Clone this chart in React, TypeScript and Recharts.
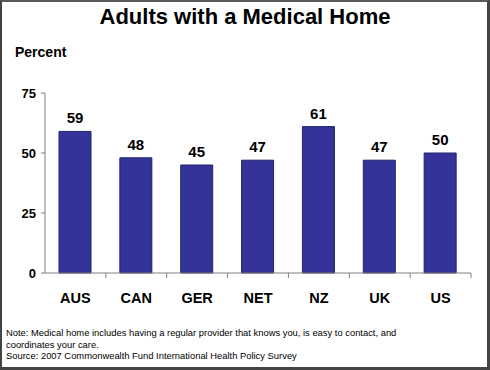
import { BarChart, Bar, XAxis, YAxis, LabelList } from "recharts";

const countries = ["AUS", "CAN", "GER", "NET", "NZ", "UK", "US"];
const percents = [59, 48, 45, 47, 61, 47, 50];
const yTicks = [0, 25, 50, 75];

const data = countries.map((name, i) => ({ name, value: percents[i] }));

const FONT = "Arial, 'Liberation Sans', Helvetica, sans-serif";
const W = 490;
const H = 370;
const LEFT = 45;
const RIGHT = 19;
const BAND = (W - LEFT - RIGHT) / countries.length;

function CountryTick(props: any) {
  const { x, y, payload } = props;
  return (
    <g>
      <line x1={x + BAND / 2} y1={y} x2={x + BAND / 2} y2={y + 5} stroke="#808080" />
      <text
        x={x}
        y={y + 26}
        textAnchor="middle"
        dominantBaseline="middle"
        fontFamily={FONT}
        fontWeight="bold"
        fontSize={14.5}
        fill="#000"
      >
        {payload.value}
      </text>
    </g>
  );
}

export default function App() {
  return (
    <div
      style={{
        position: "absolute",
        top: 0,
        left: 0,
        width: W,
        height: H,
        background: "#fff",
        fontFamily: FONT,
      }}
    >
      <div
        style={{
          position: "absolute",
          top: 4,
          left: 0,
          width: W,
          textAlign: "center",
          fontSize: 22,
          fontWeight: "bold",
          lineHeight: "26px",
        }}
      >
        Adults with a Medical Home
      </div>
      <div
        style={{
          position: "absolute",
          top: 43,
          left: 15,
          fontSize: 14,
          fontWeight: "bold",
          lineHeight: "18px",
        }}
      >
        Percent
      </div>

      <div style={{ position: "absolute", top: 0, left: 0 }}>
        <BarChart
          width={W}
          height={H}
          data={data}
          margin={{ top: 93, right: RIGHT, left: 0, bottom: 57 }}
          barCategoryGap="24%"
        >
          <XAxis
            dataKey="name"
            height={40}
            axisLine={{ stroke: "#808080" }}
            tickLine={false}
            tickSize={0}
            tickMargin={0}
            interval={0}
            tick={<CountryTick />}
          />
          <YAxis
            width={LEFT}
            domain={[0, 75]}
            ticks={yTicks}
            axisLine={{ stroke: "#808080" }}
            tickLine={{ stroke: "#808080" }}
            tickSize={4}
            tickMargin={5}
            tick={{ fill: "#000", fontSize: 13, fontWeight: "bold", fontFamily: FONT }}
          />
          <Bar
            dataKey="value"
            fill="#333399"
            stroke="#22226a"
            strokeWidth={1}
            barSize={32}
            isAnimationActive={false}
          >
            <LabelList
              dataKey="value"
              position="top"
              offset={8}
              fill="#000"
              fontSize={15}
              fontWeight="bold"
              fontFamily={FONT}
            />
          </Bar>
        </BarChart>
      </div>

      <div
        style={{
          position: "absolute",
          top: 327,
          left: 6,
          fontSize: 9.4,
          lineHeight: "11.5px",
          color: "#000",
        }}
      >
        Note: Medical home includes having a regular provider that knows you, is easy to contact, and
        <br />
        coordinates your care.
        <br />
        Source: 2007 Commonwealth Fund International Health Policy Survey
      </div>

      <div
        style={{
          position: "absolute",
          inset: 0,
          boxSizing: "border-box",
          borderTop: "2px solid #5a5a5a",
          borderLeft: "2px solid #444",
          borderRight: "3px solid #444",
          borderBottom: "3px solid #444",
          pointerEvents: "none",
        }}
      />
    </div>
  );
}
